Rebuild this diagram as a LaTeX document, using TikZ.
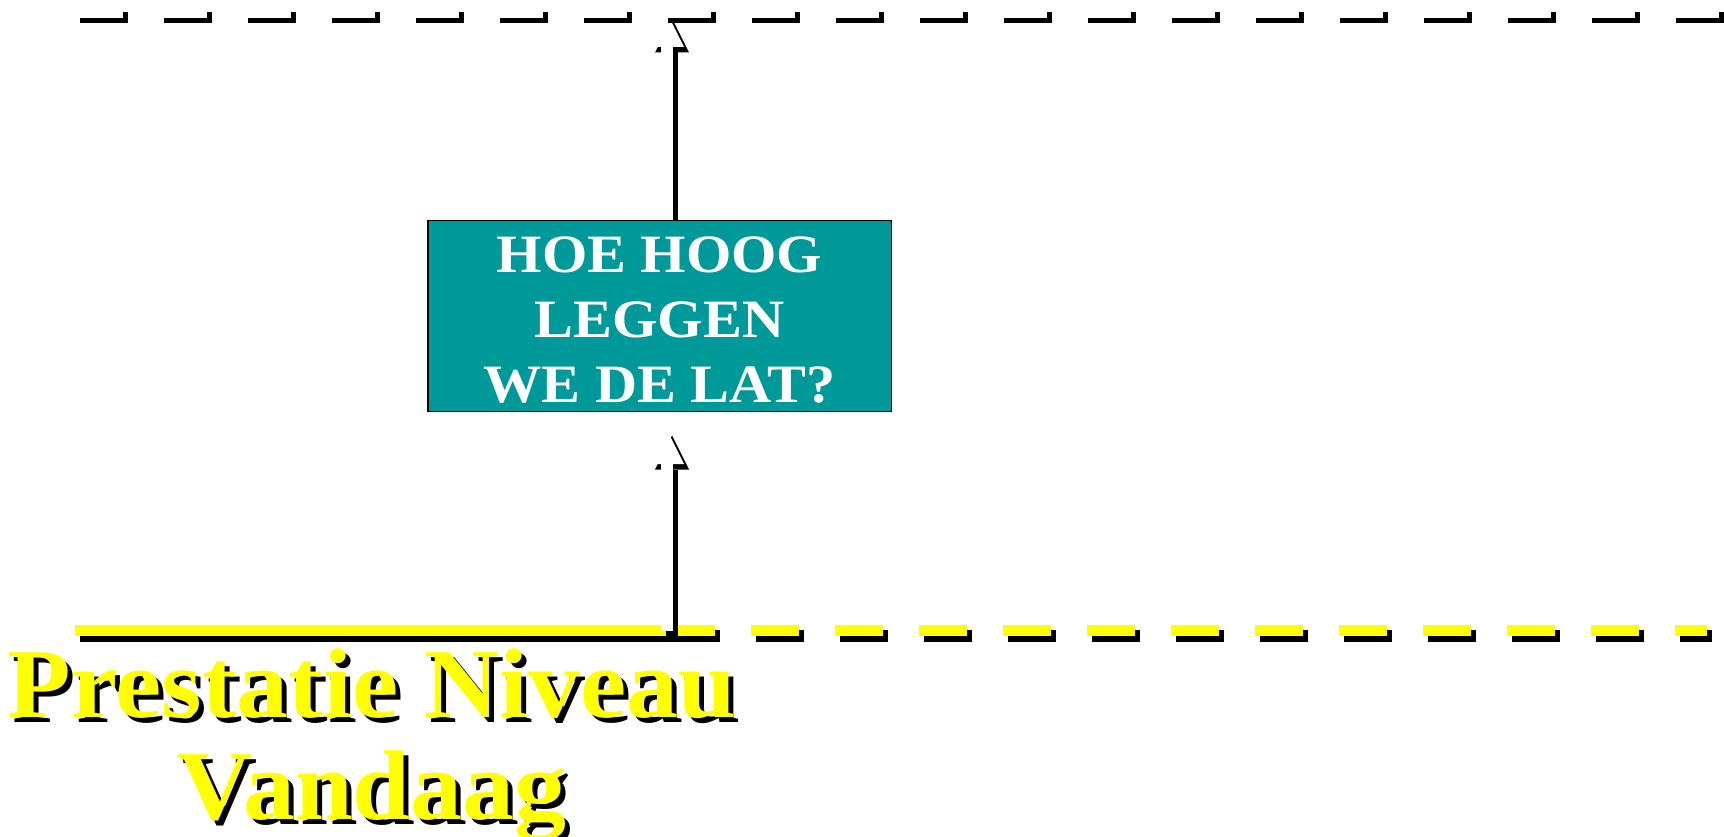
\documentclass[tikz,border=0pt]{standalone}
\usepackage{fontspec}
\setmainfont{Liberation Serif}
\newfontfamily\latfam{Liberation Serif Bold}[FakeStretch=1.08]
\newfontfamily\levelfam{Liberation Serif Bold}[FakeStretch=1.05]
\usetikzlibrary{arrows.meta,backgrounds}

\definecolor{latgreen}{RGB}{0,153,153}
\definecolor{latyellow}{RGB}{255,255,0}

\tikzset{
  barline/.style={line width=11.5pt},
  dashes/.style={dash pattern=on 48pt off 36pt},
  drop/.style={transform canvas={shift={(5,5.5)}}},
  upline/.style={line width=12pt, -{Triangle[length=34pt,width=34pt,line width=0pt]}},
  questionbox/.style={draw=black, line width=1.5pt, fill=latgreen, text=white,
    minimum width=463.5pt, minimum height=190.5pt, inner sep=0pt, align=center,
    text height=172.5pt, text depth=0pt,
    font=\latfam\fontsize{54}{65}\selectfont},
  levelfont/.style={inner sep=0pt, anchor=base, font=\levelfam\fontsize{99}{102}\selectfont},
}

\begin{document}
\begin{tikzpicture}[x=1pt,y=-1pt]
  \useasboundingbox (0,0) rectangle (1724,837);

  \node[questionbox] (lat) at (659.5,316) {HOE HOOG\\LEGGEN\\WE DE LAT?};

  \coordinate (top tip) at (667,13);
  \coordinate (top left) at (75,12);
  \coordinate (top right) at (1724,12);

  \coordinate (low tip) at (667,430);
  \coordinate (low foot) at (667,630.5);
  \coordinate (low left) at (75,630.5);
  \coordinate (low mid) at (715,630.5);
  \coordinate (low right) at (1707,630.5);

  \begin{scope}[on background layer]
    % arrow up from the box
    \draw[upline, black, drop] (top tip |- lat.north) -- (top tip);
    \draw[upline, white] (top tip |- lat.north) -- (top tip);

    % the bar
    \draw[barline, dashes, black, drop] (top left) -- (top right);
    \draw[barline, dashes, white] (top left) -- (top right);

    % level of today
    \draw[barline, black, drop] (low left) -- (low mid);
    \draw[barline, dashes, dash phase=48pt, black, drop] (low mid) -- (low right);
    \draw[barline, latyellow] (low left) -- (low mid);
    \draw[barline, dashes, dash phase=48pt, latyellow] (low mid) -- (low right);

    % arrow up to the box
    \draw[upline, black, drop] (low foot) -- (low tip);
    \draw[upline, white] (low foot) -- (low tip);
  \end{scope}

  \node[levelfont, black] (niveau shadow) at (377,722) {Prestatie Niveau};
  \node[levelfont, latyellow] (niveau) at (372,717) {Prestatie Niveau};
  \node[levelfont, black] (vandaag shadow) at (377,824) {Vandaag};
  \node[levelfont, latyellow] (vandaag) at (372,819) {Vandaag};
\end{tikzpicture}
\end{document}
